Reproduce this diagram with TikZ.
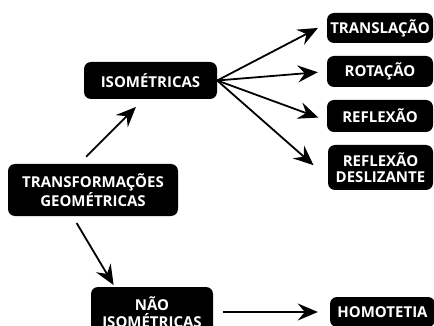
\documentclass[tikz,border=0pt]{standalone}
\usepackage{fontspec}
\setmainfont{Open Sans}
\usetikzlibrary{arrows.meta}

\tikzset{
  box/.style={fill=black, text=white, rounded corners=7pt, align=center,
    font=\bfseries\fontsize{15}{16.5}\selectfont, inner sep=0pt},
  arr/.style={line width=1.8pt, -{Stealth[length=20pt, width=17pt, inset=7pt]}}
}

\begin{document}
\begin{tikzpicture}[x=1pt,y=-1pt]

\useasboundingbox (0,0) rectangle (434,326);
\clip (0,0) rectangle (434,326);

% main concept
\node[box, minimum width=170pt, minimum height=52pt] (trans) at (93,190) {TRANSFORMAÇÕES\\GEOMÉTRICAS};

% two branches
\node[box, minimum width=133pt, minimum height=37pt] (iso) at (150.5,80.5) {ISOMÉTRICAS};
\node[box, minimum width=122pt, minimum height=50pt] (nao) at (152,312) {NÃO\\ISOMÉTRICAS};

% isometries
\node[box, minimum width=106pt, minimum height=30pt] (transl) at (380,28) {TRANSLAÇÃO};
\node[box, minimum width=106pt, minimum height=31pt] (rot) at (380,71.5) {ROTAÇÃO};
\node[box, minimum width=106pt, minimum height=32pt] (refl) at (380,116) {REFLEXÃO};
\node[box, minimum width=105pt, minimum height=45pt] (desl) at (380.5,167.5) {REFLEXÃO\\DESLIZANTE};

% non isometries
\node[box, minimum width=105pt, minimum height=30pt] (homot) at (382.5,312) {HOMOTETIA};

\draw[arr, shorten <=10pt, shorten >=11pt] (trans.118) -- (iso.250);
\draw[arr, shorten <=8pt, shorten >=2pt] (trans.232) -- (nao.146);

\draw[arr, shorten >=10pt] (iso.east) -- (transl.175);
\draw[arr, shorten >=9pt] (iso.east) -- (rot.west);
\draw[arr, shorten >=9pt] (iso.east) -- (refl.185);
\draw[arr, shorten >=19pt] (iso.east) -- (desl.191);

\draw[arr, shorten <=10pt, shorten >=12pt] (nao.east) -- (homot.west);

\end{tikzpicture}
\end{document}
